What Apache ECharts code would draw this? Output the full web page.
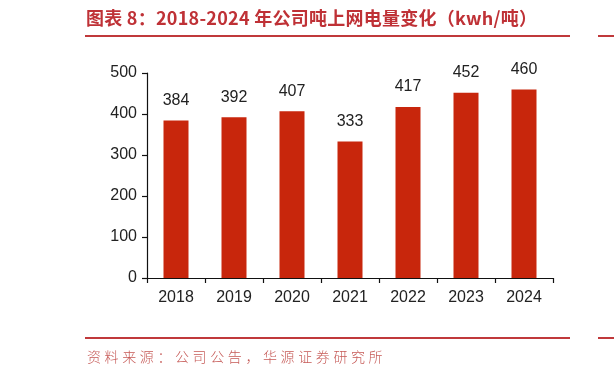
<!DOCTYPE html>
<html>
<head>
<meta charset="utf-8">
<script src="https://cdn.jsdelivr.net/npm/echarts@6/dist/echarts.min.js"></script>
<style>
  html, body { margin: 0; padding: 0; background: #fff; }
  #wrap { position: relative; width: 614px; height: 377px; }
  #chart { position: absolute; left: 0; top: 0; width: 614px; height: 377px; }
  #title {
    position: absolute; left: 86px; top: 5px;
    font-family: "Noto Sans CJK SC", sans-serif; font-size: 18px; font-weight: bold;
    line-height: 24px; letter-spacing: 0.25px; color: #bf3136; white-space: nowrap;
  }
  #source {
    position: absolute; left: 87px; top: 346px;
    font-family: "Noto Sans CJK SC", sans-serif; font-size: 14px; font-weight: 300;
    letter-spacing: 3.6px; color: #c65a57; white-space: nowrap;
  }
</style>
</head>
<body>
<div id="wrap">
  <div id="chart"></div>
  <div id="title">图表 8：2018-2024 年公司吨上网电量变化（kwh/吨）</div>
  <div id="source">资料来源：公司公告，华源证券研究所</div>
</div>
<script>
// tonnes-to-grid electricity per year (kwh/吨)
const years = ["2018", "2019", "2020", "2021", "2022", "2023", "2024"];
const kwhPerTon = [384, 392, 407, 333, 417, 452, 460];
const yTicks = [0, 100, 200, 300, 400, 500];

const RED = "#c8260c";
const LINE_RED = "#c0393b";

const chart = echarts.init(document.getElementById("chart"));

chart.setOption({
  animation: false,
  grid: { left: 147, right: 61, top: 73, bottom: 99, containLabel: false },
  xAxis: {
    type: "category",
    data: years,
    axisLine: { lineStyle: { color: "#111", width: 1.2 } },
    axisTick: { show: true, length: 5, lineStyle: { color: "#111", width: 1.2 } },
    axisLabel: { color: "#222", fontSize: 16, fontFamily: "Liberation Sans", margin: 12 }
  },
  yAxis: {
    type: "value",
    min: yTicks[0],
    max: yTicks[yTicks.length - 1],
    interval: 100,
    axisLine: { show: true, lineStyle: { color: "#111", width: 1.2 } },
    axisTick: { show: true, length: 5, lineStyle: { color: "#111", width: 1.2 } },
    axisLabel: { color: "#222", fontSize: 16, fontFamily: "Liberation Sans", margin: 10 },
    splitLine: { show: false }
  },
  series: [{
    type: "bar",
    data: kwhPerTon,
    barWidth: 25,
    itemStyle: { color: RED },
    label: {
      show: true, position: "top", distance: 12,
      color: "#222", fontSize: 16, fontFamily: "Liberation Sans"
    }
  }],
  graphic: [
    { type: "line", shape: { x1: 85, y1: 36, x2: 570, y2: 36 }, style: { stroke: LINE_RED, lineWidth: 2 } },
    { type: "line", shape: { x1: 598, y1: 36, x2: 614, y2: 36 }, style: { stroke: LINE_RED, lineWidth: 2 } },
    { type: "line", shape: { x1: 85, y1: 338, x2: 570, y2: 338 }, style: { stroke: LINE_RED, lineWidth: 2 } },
    { type: "line", shape: { x1: 598, y1: 338, x2: 614, y2: 338 }, style: { stroke: LINE_RED, lineWidth: 2 } }
  ]
});
</script>
</body>
</html>
